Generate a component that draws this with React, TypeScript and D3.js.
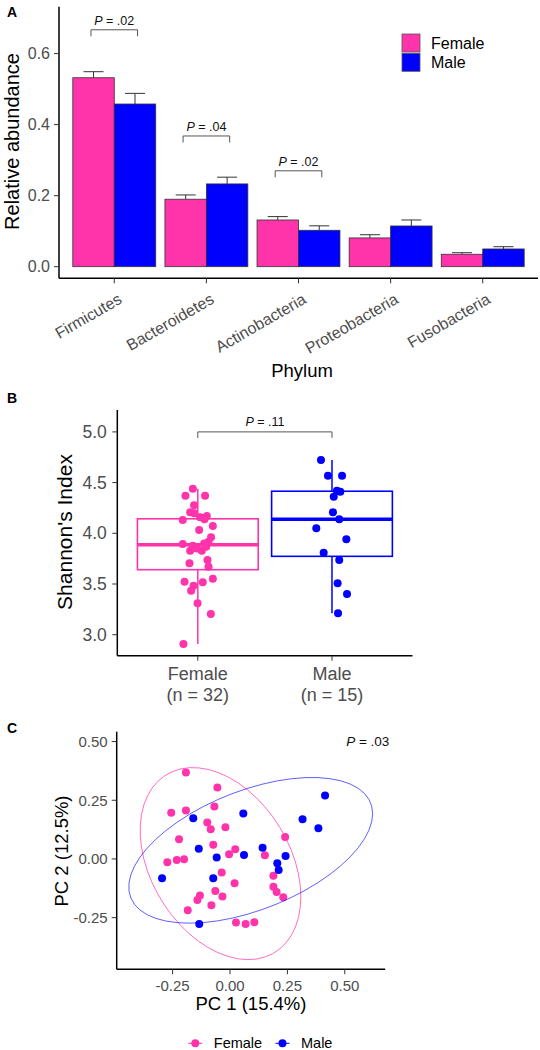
import React from 'react';
import * as d3 from 'd3';

// ---------- Panel A data ----------
const phyla = ['Firmicutes', 'Bacteroidetes', 'Actinobacteria', 'Proteobacteria', 'Fusobacteria'];
const femaleMean = [0.532, 0.19, 0.1315, 0.081, 0.035];
const femaleSE = [0.017, 0.012, 0.0095, 0.009, 0.0044];
const maleMean = [0.458, 0.233, 0.1025, 0.1146, 0.0499];
const maleSE = [0.03, 0.019, 0.0125, 0.0169, 0.0064];
const abundanceTicks = [0, 0.2, 0.4, 0.6];
const sigIndex = [0, 1, 2];
const sigLevel = [0.667, 0.368, 0.27];
const sigText = ['.02', '.04', '.02'];

// ---------- Panel B data ----------
const groups = ['Female', 'Male'];
const groupN = [32, 15];
const femaleShannon = [4.44, 4.371, 4.371, 4.276, 4.207, 4.158, 4.171, 4.138, 4.131, 4.197, 4.072, 4.033, 3.96, 3.917, 3.894, 3.878, 3.829, 3.829, 3.868, 3.704, 3.737, 3.671, 3.523, 3.517, 3.552, 3.483, 3.434, 3.31, 3.204, 2.908, 3.85, 3.9];
const femaleJitter = [-0.037, -0.092, 0.054, -0.028, -0.057, 0.017, 0.067, 0.05, -0.112, -0.028, 0.112, 0.01, 0.099, 0.08, -0.112, -0.037, -0.057, 0.03, 0.062, -0.062, 0.072, 0.08, -0.099, 0.037, 0.112, -0.032, -0.05, -0.002, 0.097, -0.107, -0.007, 0.047];
const maleShannon = [4.723, 4.568, 4.568, 4.42, 4.41, 4.361, 4.207, 4.138, 4.049, 3.941, 3.809, 3.737, 3.507, 3.401, 3.211];
const maleJitter = [-0.082, -0.03, 0.075, 0.037, 0.062, 0.013, 0.007, 0.054, -0.117, 0.107, -0.062, 0.054, 0.042, 0.112, 0.045];
const shannonTicks = [3.0, 3.5, 4.0, 4.5, 5.0];
const shannonP = '.11';

// ---------- Panel C data ----------
const femalePC1 = [-0.192, -0.055, -0.256, -0.192, -0.068, -0.099, -0.084, -0.02, -0.222, -0.073, -0.273, -0.232, -0.2, -0.004, 0.023, -0.036, 0.02, -0.064, -0.033, -0.131, -0.142, -0.081, -0.184, 0.026, 0.24, 0.152, 0.189, 0.189, 0.203, 0.232, 0.068, 0.106];
const femalePC2 = [0.368, 0.304, 0.197, 0.206, 0.223, 0.155, 0.126, 0.135, 0.084, 0.06, -0.014, -0.004, -0.001, 0.02, 0.041, -0.058, -0.104, -0.136, -0.16, -0.156, -0.175, -0.197, -0.219, -0.271, 0.094, 0.016, -0.072, -0.118, -0.141, -0.163, -0.277, -0.27];
const malePC1 = [-0.16, -0.136, -0.058, -0.296, -0.073, -0.134, 0.058, 0.414, 0.316, 0.385, 0.142, 0.061, 0.242, 0.206, 0.212];
const malePC2 = [0.173, 0.043, 0.006, -0.082, -0.082, -0.277, 0.194, 0.27, 0.169, 0.131, 0.048, 0.017, 0.013, -0.018, -0.047];
const pcTicks = [-0.25, 0, 0.25, 0.5];
const pcoaP = '.03';

const PINK = '#FF33AA';
const BLUE = '#0000FF';
const FONT = '"Liberation Sans", Arial, Helvetica, sans-serif';
const TICKCOL = '#4D4D4D';

// multivariate t fit (MASS::cov.trob, nu = 5)
function covTrob(pts: number[][], nu = 5) {
  const p = 2;
  const n = pts.length;
  let loc = [d3.mean(pts, (d) => d[0])!, d3.mean(pts, (d) => d[1])!];
  let w = pts.map(() => 1);
  let X = pts.map((d) => [d[0] - loc[0], d[1] - loc[1]]);
  for (let iter = 0; iter < 100; iter++) {
    const w0 = w.slice();
    X = pts.map((d) => [d[0] - loc[0], d[1] - loc[1]]);
    const sw = d3.sum(w);
    let a = 0, b = 0, c = 0;
    X.forEach((x, i) => {
      const f = w[i] / sw;
      a += f * x[0] * x[0];
      b += f * x[0] * x[1];
      c += f * x[1] * x[1];
    });
    const det = a * c - b * b;
    const Q = X.map((x) => (c * x[0] * x[0] - 2 * b * x[0] * x[1] + a * x[1] * x[1]) / det);
    w = Q.map((q) => (nu + p) / (nu + q));
    const sw2 = d3.sum(w);
    loc = [d3.sum(pts, (d, i) => w[i] * d[0]) / sw2, d3.sum(pts, (d, i) => w[i] * d[1]) / sw2];
    if (w.every((v, i) => Math.abs(v - w0[i]) < 1e-4)) break;
  }
  let s11 = 0, s12 = 0, s22 = 0;
  X.forEach((x, i) => {
    s11 += w[i] * x[0] * x[0];
    s12 += w[i] * x[0] * x[1];
    s22 += w[i] * x[1] * x[1];
  });
  return { center: loc, cov: [s11 / n, s12 / n, s22 / n] };
}

function ellipsePoints(xs: number[], ys: number[], level = 0.95, segments = 51) {
  const pts = xs.map((x, i) => [x, ys[i]]);
  const { center, cov } = covTrob(pts);
  const dfd = pts.length - 1;
  const qf = (dfd / 2) * (Math.pow(1 - level, -2 / dfd) - 1); // F(2, dfd) quantile
  const radius = Math.sqrt(2 * qf);
  const r11 = Math.sqrt(cov[0]);
  const r12 = cov[1] / r11;
  const r22 = Math.sqrt(cov[2] - r12 * r12);
  return d3.range(segments + 1).map((k) => {
    const t = (k * 2 * Math.PI) / segments;
    const c = Math.cos(t), s = Math.sin(t);
    return [center[0] + radius * (c * r11), center[1] + radius * (c * r12 + s * r22)];
  });
}

const fmt1 = (v: number) => v.toFixed(1);
const fmt2 = (v: number) => v.toFixed(2);

function PanelA() {
  const x = d3.scalePoint<string>().domain(phyla).range([59, 538]).padding(0.6);
  const step = x.step();
  const barW = step * 0.45;
  const y = d3.scaleLinear().domain([-0.0327, 0.732]).range([278.3, 6.7]);
  const axisX = 59;
  const axisY = 278.3;
  return (
    <g>
      <text x={7} y={17} fontSize={14} fontWeight="bold" fontFamily={FONT}>A</text>
      {/* error bars (upper) */}
      {phyla.map((p, i) => {
        const cf = x(p)! - barW / 2;
        const cm = x(p)! + barW / 2;
        return (
          <g key={'e' + p} stroke="#333" strokeWidth={1}>
            <line x1={cf} x2={cf} y1={y(femaleMean[i])} y2={y(femaleMean[i] + femaleSE[i])} />
            <line x1={cf - 10} x2={cf + 10} y1={y(femaleMean[i] + femaleSE[i])} y2={y(femaleMean[i] + femaleSE[i])} />
            <line x1={cm} x2={cm} y1={y(maleMean[i])} y2={y(maleMean[i] + maleSE[i])} />
            <line x1={cm - 10} x2={cm + 10} y1={y(maleMean[i] + maleSE[i])} y2={y(maleMean[i] + maleSE[i])} />
          </g>
        );
      })}
      {phyla.map((p, i) => (
        <g key={'b' + p} stroke="#333" strokeWidth={0.8}>
          <rect x={x(p)! - barW} y={y(femaleMean[i])} width={barW} height={y(0) - y(femaleMean[i])} fill={PINK} />
          <rect x={x(p)!} y={y(maleMean[i])} width={barW} height={y(0) - y(maleMean[i])} fill={BLUE} />
        </g>
      ))}
      {/* significance brackets */}
      {sigIndex.map((idx, k) => {
        const cx = x(phyla[idx])!;
        const yy = y(sigLevel[k]);
        const half = 23.3;
        return (
          <g key={'s' + k}>
            <path d={`M${cx - half},${yy + 6.5}V${yy}H${cx + half}V${yy + 6.5}`} fill="none" stroke="#555" strokeWidth={1} />
            <text x={cx} y={yy - 5} textAnchor="middle" fontSize={12.5} fontFamily={FONT} fill="#111">
              <tspan fontStyle="italic">P</tspan> = {sigText[k]}
            </text>
          </g>
        );
      })}
      {/* axes */}
      <line x1={axisX} x2={axisX} y1={6.7} y2={axisY} stroke="#000" strokeWidth={1.5} />
      <line x1={axisX} x2={538} y1={axisY} y2={axisY} stroke="#000" strokeWidth={1.5} />
      {abundanceTicks.map((t) => (
        <g key={'yt' + t}>
          <line x1={axisX - 5} x2={axisX} y1={y(t)} y2={y(t)} stroke="#333" strokeWidth={1} />
          <text x={axisX - 9} y={y(t)} dy="0.35em" textAnchor="end" fontSize={16} fontFamily={FONT} fill={TICKCOL}>{fmt1(t)}</text>
        </g>
      ))}
      {phyla.map((p) => (
        <g key={'xt' + p}>
          <line x1={x(p)} x2={x(p)} y1={axisY} y2={axisY + 5} stroke="#333" strokeWidth={1} />
          <text transform={`translate(${x(p)! + 3},${axisY + 14}) rotate(-30)`} dy="0.72em" textAnchor="end" fontSize={16} fontFamily={FONT} fill={TICKCOL}>{p}</text>
        </g>
      ))}
      <text x={302} y={377} textAnchor="middle" fontSize={18.5} fontFamily={FONT}>Phylum</text>
      <text transform="translate(19,141.5) rotate(-90)" textAnchor="middle" fontSize={20} fontFamily={FONT}>Relative abundance</text>
      {/* legend */}
      {groups.map((g, i) => (
        <g key={'lg' + g}>
          <rect x={402} y={34 + i * 19.3} width={18} height={18} fill={i === 0 ? PINK : BLUE} stroke="#555" strokeWidth={0.8} />
          <text x={431} y={43 + i * 19.3} dy="0.35em" fontSize={16} fontFamily={FONT}>{g}</text>
        </g>
      ))}
    </g>
  );
}

function boxStats(vals: number[]) {
  const s = vals.slice().sort(d3.ascending);
  const q1 = d3.quantileSorted(s, 0.25)!;
  const med = d3.quantileSorted(s, 0.5)!;
  const q3 = d3.quantileSorted(s, 0.75)!;
  const iqr = q3 - q1;
  const lo = d3.min(s.filter((v) => v >= q1 - 1.5 * iqr))!;
  const hi = d3.max(s.filter((v) => v <= q3 + 1.5 * iqr))!;
  return { q1, med, q3, lo, hi };
}

function PanelB() {
  const x = d3.scalePoint<string>().domain(groups).range([117.3, 412.5]).padding(0.6);
  const step = x.step();
  const y = d3.scaleLinear().domain([2.793, 5.216]).range([655.7, 410]);
  const axisX = 117.3;
  const axisY = 655.7;
  const series = [
    { g: 'Female', vals: femaleShannon, jit: femaleJitter, col: PINK },
    { g: 'Male', vals: maleShannon, jit: maleJitter, col: BLUE },
  ];
  const bw = step * 0.9;
  return (
    <g>
      <text x={7} y={403} fontSize={14} fontWeight="bold" fontFamily={FONT}>B</text>
      {series.map((s) => {
        const st = boxStats(s.vals);
        const cx = x(s.g)!;
        return (
          <g key={'box' + s.g}>
            <line x1={cx} x2={cx} y1={y(st.hi)} y2={y(st.q3)} stroke={s.col} strokeWidth={1.5} />
            <line x1={cx} x2={cx} y1={y(st.q1)} y2={y(st.lo)} stroke={s.col} strokeWidth={1.5} />
            <rect x={cx - bw / 2} y={y(st.q3)} width={bw} height={y(st.q1) - y(st.q3)} fill="#fff" stroke={s.col} strokeWidth={1.6} />
            <line x1={cx - bw / 2} x2={cx + bw / 2} y1={y(st.med)} y2={y(st.med)} stroke={s.col} strokeWidth={3.5} />
          </g>
        );
      })}
      {series.map((s) =>
        s.vals.map((v, i) => (
          <circle key={s.g + i} cx={x(s.g)! + s.jit[i] * step} cy={y(v)} r={4} fill={s.col} />
        ))
      )}
      {/* bracket */}
      <path d={`M${x('Female')},${y(5.0) + 6}V${y(5.0)}H${x('Male')}V${y(5.0) + 6}`} fill="none" stroke="#555" strokeWidth={1} />
      <text x={(x('Female')! + x('Male')!) / 2} y={y(5.0) - 5.5} textAnchor="middle" fontSize={12.5} fontFamily={FONT} fill="#111">
        <tspan fontStyle="italic">P</tspan> = {shannonP}
      </text>
      <line x1={axisX} x2={axisX} y1={410} y2={axisY} stroke="#000" strokeWidth={1.5} />
      <line x1={axisX} x2={412.5} y1={axisY} y2={axisY} stroke="#000" strokeWidth={1.5} />
      {shannonTicks.map((t) => (
        <g key={'byt' + t}>
          <line x1={axisX - 5} x2={axisX} y1={y(t)} y2={y(t)} stroke="#333" strokeWidth={1} />
          <text x={axisX - 10.5} y={y(t)} dy="0.35em" textAnchor="end" fontSize={17.5} fontFamily={FONT} fill={TICKCOL}>{fmt1(t)}</text>
        </g>
      ))}
      {groups.map((g, i) => (
        <g key={'bxt' + g}>
          <line x1={x(g)} x2={x(g)} y1={axisY} y2={axisY + 5} stroke="#333" strokeWidth={1} />
          <text x={x(g)} y={680} textAnchor="middle" fontSize={18} fontFamily={FONT} fill={TICKCOL}>{g}</text>
          <text x={x(g)} y={700.5} textAnchor="middle" fontSize={18} fontFamily={FONT} fill={TICKCOL}>(n = {groupN[i]})</text>
        </g>
      ))}
      <text transform="translate(72,532) rotate(-90)" textAnchor="middle" fontSize={21} fontFamily={FONT}>Shannon's Index</text>
    </g>
  );
}

function PanelC() {
  const x = d3.scaleLinear().domain([-0.4935, 0.676]).range([116.7, 385.2]);
  const y = d3.scaleLinear().domain([-0.47, 0.542]).range([969.3, 731.7]);
  const axisX = 116.7;
  const axisY = 969.3;
  const line = d3.line<number[]>().x((d) => x(d[0])).y((d) => y(d[1]));
  const fEll = ellipsePoints(femalePC1, femalePC2);
  const mEll = ellipsePoints(malePC1, malePC2);
  return (
    <g>
      <text x={7} y={733} fontSize={14} fontWeight="bold" fontFamily={FONT}>C</text>
      {femalePC1.map((v, i) => (
        <circle key={'fp' + i} cx={x(v)} cy={y(femalePC2[i])} r={4} fill={PINK} />
      ))}
      {malePC1.map((v, i) => (
        <circle key={'mp' + i} cx={x(v)} cy={y(malePC2[i])} r={4} fill={BLUE} />
      ))}
      <path d={line(fEll)!} fill="none" stroke={PINK} strokeOpacity={0.8} strokeWidth={0.9} />
      <path d={line(mEll)!} fill="none" stroke={BLUE} strokeOpacity={0.7} strokeWidth={0.9} />
      <text x={x(0.6)} y={y(0.5)} dy="0.35em" textAnchor="middle" fontSize={13.5} fontFamily={FONT} fill="#111">
        <tspan fontStyle="italic">P</tspan> = {pcoaP}
      </text>
      <line x1={axisX} x2={axisX} y1={731.7} y2={axisY} stroke="#000" strokeWidth={1.5} />
      <line x1={axisX} x2={385.2} y1={axisY} y2={axisY} stroke="#000" strokeWidth={1.5} />
      {pcTicks.map((t) => (
        <g key={'cyt' + t}>
          <line x1={axisX - 5} x2={axisX} y1={y(t)} y2={y(t)} stroke="#333" strokeWidth={1} />
          <text x={axisX - 9} y={y(t)} dy="0.35em" textAnchor="end" fontSize={15} fontFamily={FONT} fill={TICKCOL}>{fmt2(t)}</text>
        </g>
      ))}
      {pcTicks.map((t) => (
        <g key={'cxt' + t}>
          <line x1={x(t)} x2={x(t)} y1={axisY} y2={axisY + 5} stroke="#333" strokeWidth={1} />
          <text x={x(t)} y={991} textAnchor="middle" fontSize={15} fontFamily={FONT} fill={TICKCOL}>{fmt2(t)}</text>
        </g>
      ))}
      <text x={(axisX + 385.2) / 2} y={1010} textAnchor="middle" fontSize={18.5} fontFamily={FONT}>PC 1 (15.4%)</text>
      <text transform="translate(68,851) rotate(-90)" textAnchor="middle" fontSize={18.5} fontFamily={FONT}>PC 2 (12.5%)</text>
      {/* legend */}
      {groups.map((g, i) => {
        const kx = i === 0 ? 195.3 : 282.5;
        const col = i === 0 ? PINK : BLUE;
        return (
          <g key={'cl' + g}>
            <line x1={kx - 7} x2={kx + 7} y1={1043.3} y2={1043.3} stroke={col} strokeWidth={1} />
            <circle cx={kx} cy={1043.3} r={4} fill={col} />
            <text x={kx + 18.5} y={1043.3} dy="0.35em" fontSize={14.5} fontFamily={FONT}>{g}</text>
          </g>
        );
      })}
    </g>
  );
}

export default function App() {
  return (
    <svg width={540} height={1050} viewBox="0 0 540 1050" style={{ position: 'absolute', left: 0, top: 0, background: '#fff' }}>
      <rect width={540} height={1050} fill="#fff" />
      <PanelA />
      <PanelB />
      <PanelC />
    </svg>
  );
}
